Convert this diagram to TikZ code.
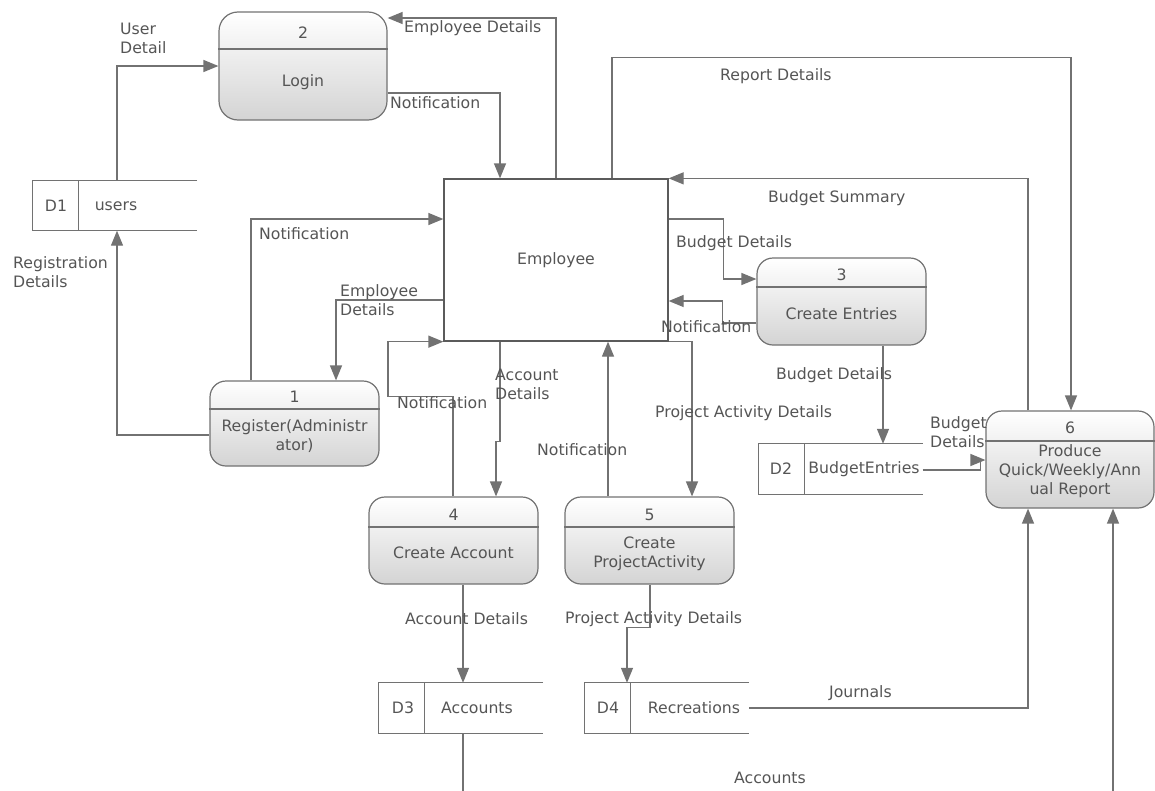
\documentclass[tikz,border=0pt]{standalone}
\usepackage{fontspec}
\setmainfont{DejaVu Sans}
\usepackage{tikz}
\usetikzlibrary{arrows.meta}
\definecolor{lncol}{HTML}{727272}
\definecolor{txcol}{HTML}{555555}
\newcommand{\dfdfont}{\fontsize{15.7}{19}\selectfont}
\tikzset{
	proc/.style={draw=lncol, line width=1.2pt, rounded corners=16pt, top color=white,
		bottom color=black!17, minimum width=169pt, minimum height=87pt, inner sep=0pt},
	ptxt/.style={text=txcol, align=center, inner sep=0pt, font=\dfdfont},
	emp/.style={draw=lncol!80!black, line width=1.3pt, minimum width=224pt,
		minimum height=162pt, text=txcol, font=\dfdfont},
	store/.style={minimum width=164pt, minimum height=50pt, inner sep=0pt},
	sline/.style={draw=lncol, line width=1.3pt},
	flow/.style={draw=lncol, line width=1.3pt, -{Triangle[length=15pt,width=12pt]}},
	lbl/.style={text=txcol, align=left, anchor=west, inner sep=0pt, font=\dfdfont},
}
\begin{document}
\begin{tikzpicture}[x=1pt, y=-1pt]
	\useasboundingbox (0,0) rectangle (1155,790);
	\node[proc, rounded corners=19pt, minimum width=168pt, minimum height=108pt] at (303,66) (p2) {};
	\node[proc, minimum height=85pt] at (294.5,423.5) (p1) {};
	\node[proc] at (841.5,301.5) (p3) {};
	\node[proc] at (453.5,540.5) (p4) {};
	\node[proc] at (649.5,540.5) (p5) {};
	\node[proc, minimum width=168pt, minimum height=97pt] at (1070,459.5) (p6) {};
	\draw[sline] (p2.west |- 0,49) -- (p2.east |- 0,49);
	\draw[sline] (p1.west |- 0,409) -- (p1.east |- 0,409);
	\draw[sline] (p3.west |- 0,287) -- (p3.east |- 0,287);
	\draw[sline] (p4.west |- 0,527) -- (p4.east |- 0,527);
	\draw[sline] (p5.west |- 0,527) -- (p5.east |- 0,527);
	\draw[sline] (p6.west |- 0,441) -- (p6.east |- 0,441);
	\node[ptxt] at (303,33) (p2n) {2};
	\node[ptxt] at (303,82) (p2t) {Login};
	\node[ptxt] at (294.5,397) (p1n) {1};
	\node[ptxt] at (294.5,436.5) (p1t) {Register(Administr\\ator)};
	\node[ptxt] at (841.5,275) (p3n) {3};
	\node[ptxt] at (841.5,314) (p3t) {Create Entries};
	\node[ptxt] at (453.5,515) (p4n) {4};
	\node[ptxt] at (453.5,553) (p4t) {Create Account};
	\node[ptxt] at (649.5,515) (p5n) {5};
	\node[ptxt] at (649.5,553.5) (p5t) {Create\\ProjectActivity};
	\node[ptxt] at (1070,428) (p6n) {6};
	\node[ptxt] at (1070,471.5) (p6t) {Produce\\Quick/Weekly/Ann\\ual Report};
	\node[emp] at (556,260) (emp) {Employee};
	\node[store] at (115,205.5) (d1) {};
	\node[store] at (840.5,469) (d2) {};
	\node[store] at (461,708) (d3) {};
	\node[store] at (667,708) (d4) {};
	\foreach \s in {d1,d2,d3,d4}{
		\draw[sline] (\s.north east) -- (\s.north west) -- (\s.south west) -- (\s.south east);
		\draw[sline] ([xshift=46pt]\s.north west) -- ([xshift=46pt]\s.south west);
	}
	\node[ptxt] at (56,206) (d1id) {D1};
	\node[ptxt] at (116,206) (d1nm) {users};
	\node[ptxt] at (781,469) (d2id) {D2};
	\node[ptxt] at (864,469) (d2nm) {BudgetEntries};
	\node[ptxt] at (403,708) (d3id) {D3};
	\node[ptxt] at (477,708) (d3nm) {Accounts};
	\node[ptxt] at (608,708) (d4id) {D4};
	\node[ptxt] at (694,708) (d4nm) {Recreations};
	\draw[flow] (d1.north -| 117,0) |- (p2.west);
	\draw[flow] (p1.west |- 0,435) -| (d1.south -| 117,0);
	\draw[flow] (p2.east |- 0,93) -| (emp.north -| 500,0);
	\draw[flow] (emp.north) |- (p2.east |- 0,18);
	\draw[flow] (emp.north -| 612,0) -- ++(0,-121) -| (p6.north -| 1071,0);
	\draw[flow] (p6.north -| 1028,0) |- (emp.north east);
	\draw[flow] (emp.east |- 0,219) -- ++(55,0) |- (p3.west |- 0,279);
	\draw[flow] (p3.west |- 0,323) -- ++(-34,0) |- (emp.east |- 0,301);
	\draw[flow] (p3.south -| 883,0) -- (d2.north -| 883,0);
	\draw[flow] (d2.east |- 0,470) -- ++(58,0) |- (p6.west |- 0,460);
	\draw[flow] (p1.north -| 251,0) |- (emp.west |- 0,219);
	\draw[flow] (emp.west |- 0,300) -| (p1.north -| 336,0);
	\draw[flow] (p4.north -| 453,0) -- ++(0,-100) -- ++(-65,0) |- (emp.south west);
	\draw[flow] (emp.south -| 500,0) -- ++(0,100) -| (p4.north -| 496,0);
	\draw[flow] (p5.north -| 608,0) -- (emp.south -| 608,0);
	\draw[flow] (emp.south east) -| (p5.north -| 692,0);
	\draw[flow] (p4.south -| 463,0) -- (d3.north -| 463,0);
	\draw[flow] (p5.south -| 650,0) -- ++(0,43) -| (d4.north -| 627,0);
	\draw[flow] (d4.east |- 0,708) -| (p6.south -| 1028,0);
	\begin{scope}
		\clip (0,0) rectangle (1155,790);
		\draw[flow] (d3.south -| 463,0) -- ++(0,80) -| (p6.south -| 1113,0);
	\end{scope}
	\node[lbl] at (120,38.5) (l1) {User\\Detail};
	\node[lbl] at (13,272.5) (l2) {Registration\\Details};
	\node[lbl] at (390,103) (l3) {Notification};
	\node[lbl] at (404,28) (l4) {Employee Details};
	\node[lbl] at (720,76) (l5) {Report Details};
	\node[lbl] at (768,198) (l6) {Budget Summary};
	\node[lbl] at (676,243) (l7) {Budget Details};
	\node[lbl] at (661,327) (l8) {Notification};
	\node[lbl] at (776,375) (l9) {Budget Details};
	\node[lbl] at (930,432) (l10) {Budget\\Details};
	\node[lbl] at (259,234) (l11) {Notification};
	\node[lbl] at (340,300.5) (l12) {Employee\\Details};
	\node[lbl] at (397,403) (l13) {Notification};
	\node[lbl] at (495,384.5) (l14) {Account\\Details};
	\node[lbl] at (537,450) (l15) {Notification};
	\node[lbl] at (655,413) (l16) {Project Activity Details};
	\node[lbl] at (405,619) (l17) {Account Details};
	\node[lbl] at (565,619) (l18) {Project Activity Details};
	\node[lbl] at (829,693) (l19) {Journals};
	\node[lbl] at (734,778) (l20) {Accounts};
\end{tikzpicture}
\end{document}
